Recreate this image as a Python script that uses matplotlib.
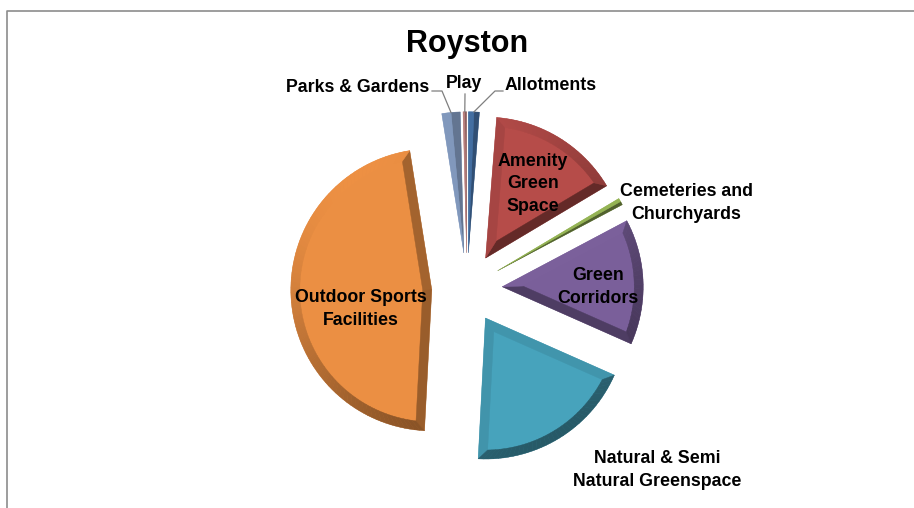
"""Royston open space types - exploded pie with bevel look"""

import numpy as np
import matplotlib.pyplot as plt

# Datos (porcentaje de superficie)
categories = ['Allotments', 'Amenity Green Space', 'Cemeteries and Churchyards',
              'Green Corridors', 'Natural & Semi Natural Greenspace',
              'Outdoor Sports Facilities', 'Parks & Gardens', 'Play']
shares = [1.25, 15.2, 0.8, 14.4, 19.2, 46.7, 2.1, 0.4]
base_colors = ['#4F81BD', '#C0504D', '#9BBB59', '#8064A2',
               '#4BACC6', '#F79646', '#9DB9E5', '#D99694']
title = 'Royston'

# Texto de las etiquetas (con saltos de línea como en el original)
label_text = ['Allotments', 'Amenity\nGreen\nSpace', 'Cemeteries and\nChurchyards',
              'Green\nCorridors', 'Natural & Semi\nNatural Greenspace',
              'Outdoor Sports\nFacilities', 'Parks & Gardens', 'Play']

# Layout en pixeles
W, H = 914, 508
CX, CY, R_PX = 467, 288, 141
explode = 0.25
bevel = 9 / R_PX
light = np.array([-0.5, 0.85]) / np.linalg.norm([-0.5, 0.85])


def px(x, y):
    return (x - CX) / R_PX, (CY - y) / R_PX


def shade(rgb, n):
    f = 0.74 + 0.22 * float(np.dot(n, light))
    return tuple(np.clip(np.array(rgb) * f, 0, 1))


fig = plt.figure(figsize=(W / 100, H / 100), dpi=100)
ax = fig.add_axes([0, 0, 1, 1])

face_colors = [tuple(np.array(plt.matplotlib.colors.to_rgb(c)) * 0.95) for c in base_colors]
wedges, _ = ax.pie(shares, colors=face_colors, startangle=90, counterclock=False,
                   explode=[explode] * len(shares), radius=1,
                   wedgeprops=dict(linewidth=0))

# Efecto bisel
for wdg, base in zip(wedges, base_colors):
    rgb = plt.matplotlib.colors.to_rgb(base)
    cx, cy = wdg.center
    r = wdg.r
    t1, t2 = np.radians(wdg.theta1), np.radians(wdg.theta2)
    h = (t2 - t1) / 2
    tm = t1 + h

    def P(rad, t):
        return (cx + rad * np.cos(t), cy + rad * np.sin(t))

    n1 = np.array([np.sin(t1), -np.cos(t1)])
    n2 = np.array([-np.sin(t2), np.cos(t2)])
    polys = []
    if bevel / np.sin(h) > 0.8 * r:
        # slice muy fino: dos mitades
        a = np.linspace(t1, tm, 6)
        polys.append(([(cx, cy)] + [P(r, t) for t in a], shade(rgb, n1)))
        a = np.linspace(tm, t2, 6)
        polys.append(([(cx, cy)] + [P(r, t) for t in a], shade(rgb, n2)))
    else:
        d = np.arcsin(bevel / (r - bevel))
        k = bevel / np.sin(h)
        ap = (cx + k * np.cos(tm), cy + k * np.sin(tm))
        polys.append(([(cx, cy), P(r, t1), P(r - bevel, t1 + d), ap], shade(rgb, n1)))
        polys.append(([(cx, cy), ap, P(r - bevel, t2 - d), P(r, t2)], shade(rgb, n2)))
        n_seg = max(8, int(np.degrees(t2 - t1) / 2))
        to = np.linspace(t1, t2, n_seg + 1)
        ti = np.linspace(t1 + d, t2 - d, n_seg + 1)
        for i in range(n_seg):
            m = (to[i] + to[i + 1]) / 2
            quad = [P(r, to[i]), P(r, to[i + 1]), P(r - bevel, ti[i + 1]), P(r - bevel, ti[i])]
            polys.append((quad, shade(rgb, np.array([np.cos(m), np.sin(m)]))))
    for pts, col in polys:
        ax.add_patch(plt.Polygon(pts, closed=True, facecolor=col, edgecolor=col,
                                 linewidth=0.3, zorder=3))

ax.set_xlim(-CX / R_PX, (W - CX) / R_PX)
ax.set_ylim(-(H - CY) / R_PX, CY / R_PX)
ax.axis('off')

# Etiquetas
font = dict(family='Liberation Sans', weight='bold', fontsize=12.8, color='black', zorder=5)
label_pos = {
    'Allotments': (505, 85, 'left'),
    'Amenity Green Space': (533, 184, 'center'),
    'Cemeteries and Churchyards': (686, 203, 'center'),
    'Green Corridors': (598, 287, 'center'),
    'Natural & Semi Natural Greenspace': (657, 470, 'center'),
    'Outdoor Sports Facilities': (361, 309, 'center'),
    'Parks & Gardens': (429, 87, 'right'),
    'Play': (464, 84, 'center'),
}
for cat, txt in zip(categories, label_text):
    x, y, ha = label_pos[cat]
    ax.text(*px(x, y), txt, ha=ha, va='center', multialignment='center',
            linespacing=1.4, **font)

# Líneas guía hacia los sectores pequeños
leaders = {'Parks & Gardens': [(432, 91), (442, 91)],
           'Play': [(465, 94)],
           'Allotments': [(503, 91), (495, 91)]}
for cat, pts in leaders.items():
    wdg = wedges[categories.index(cat)]
    tm = np.radians((wdg.theta1 + wdg.theta2) / 2)
    tip = (wdg.center[0] + wdg.r * np.cos(tm), wdg.center[1] + wdg.r * np.sin(tm))
    xy = [px(*p) for p in pts] + [tip]
    ax.plot([p[0] for p in xy], [p[1] for p in xy], color='#7f7f7f', lw=0.9, zorder=4)

# Título
ax.text(*px(467, 44), title, ha='center', va='center', family='Liberation Sans',
        weight='bold', fontsize=22, color='black')

# Marco del área del gráfico
fig.add_artist(plt.Line2D([7 / W, 7 / W, 1.0], [0.0, 1 - 11 / H, 1 - 11 / H],
                          transform=fig.transFigure, color='#8c8c8c', lw=1.2))

plt.savefig('out.png', dpi=100)
